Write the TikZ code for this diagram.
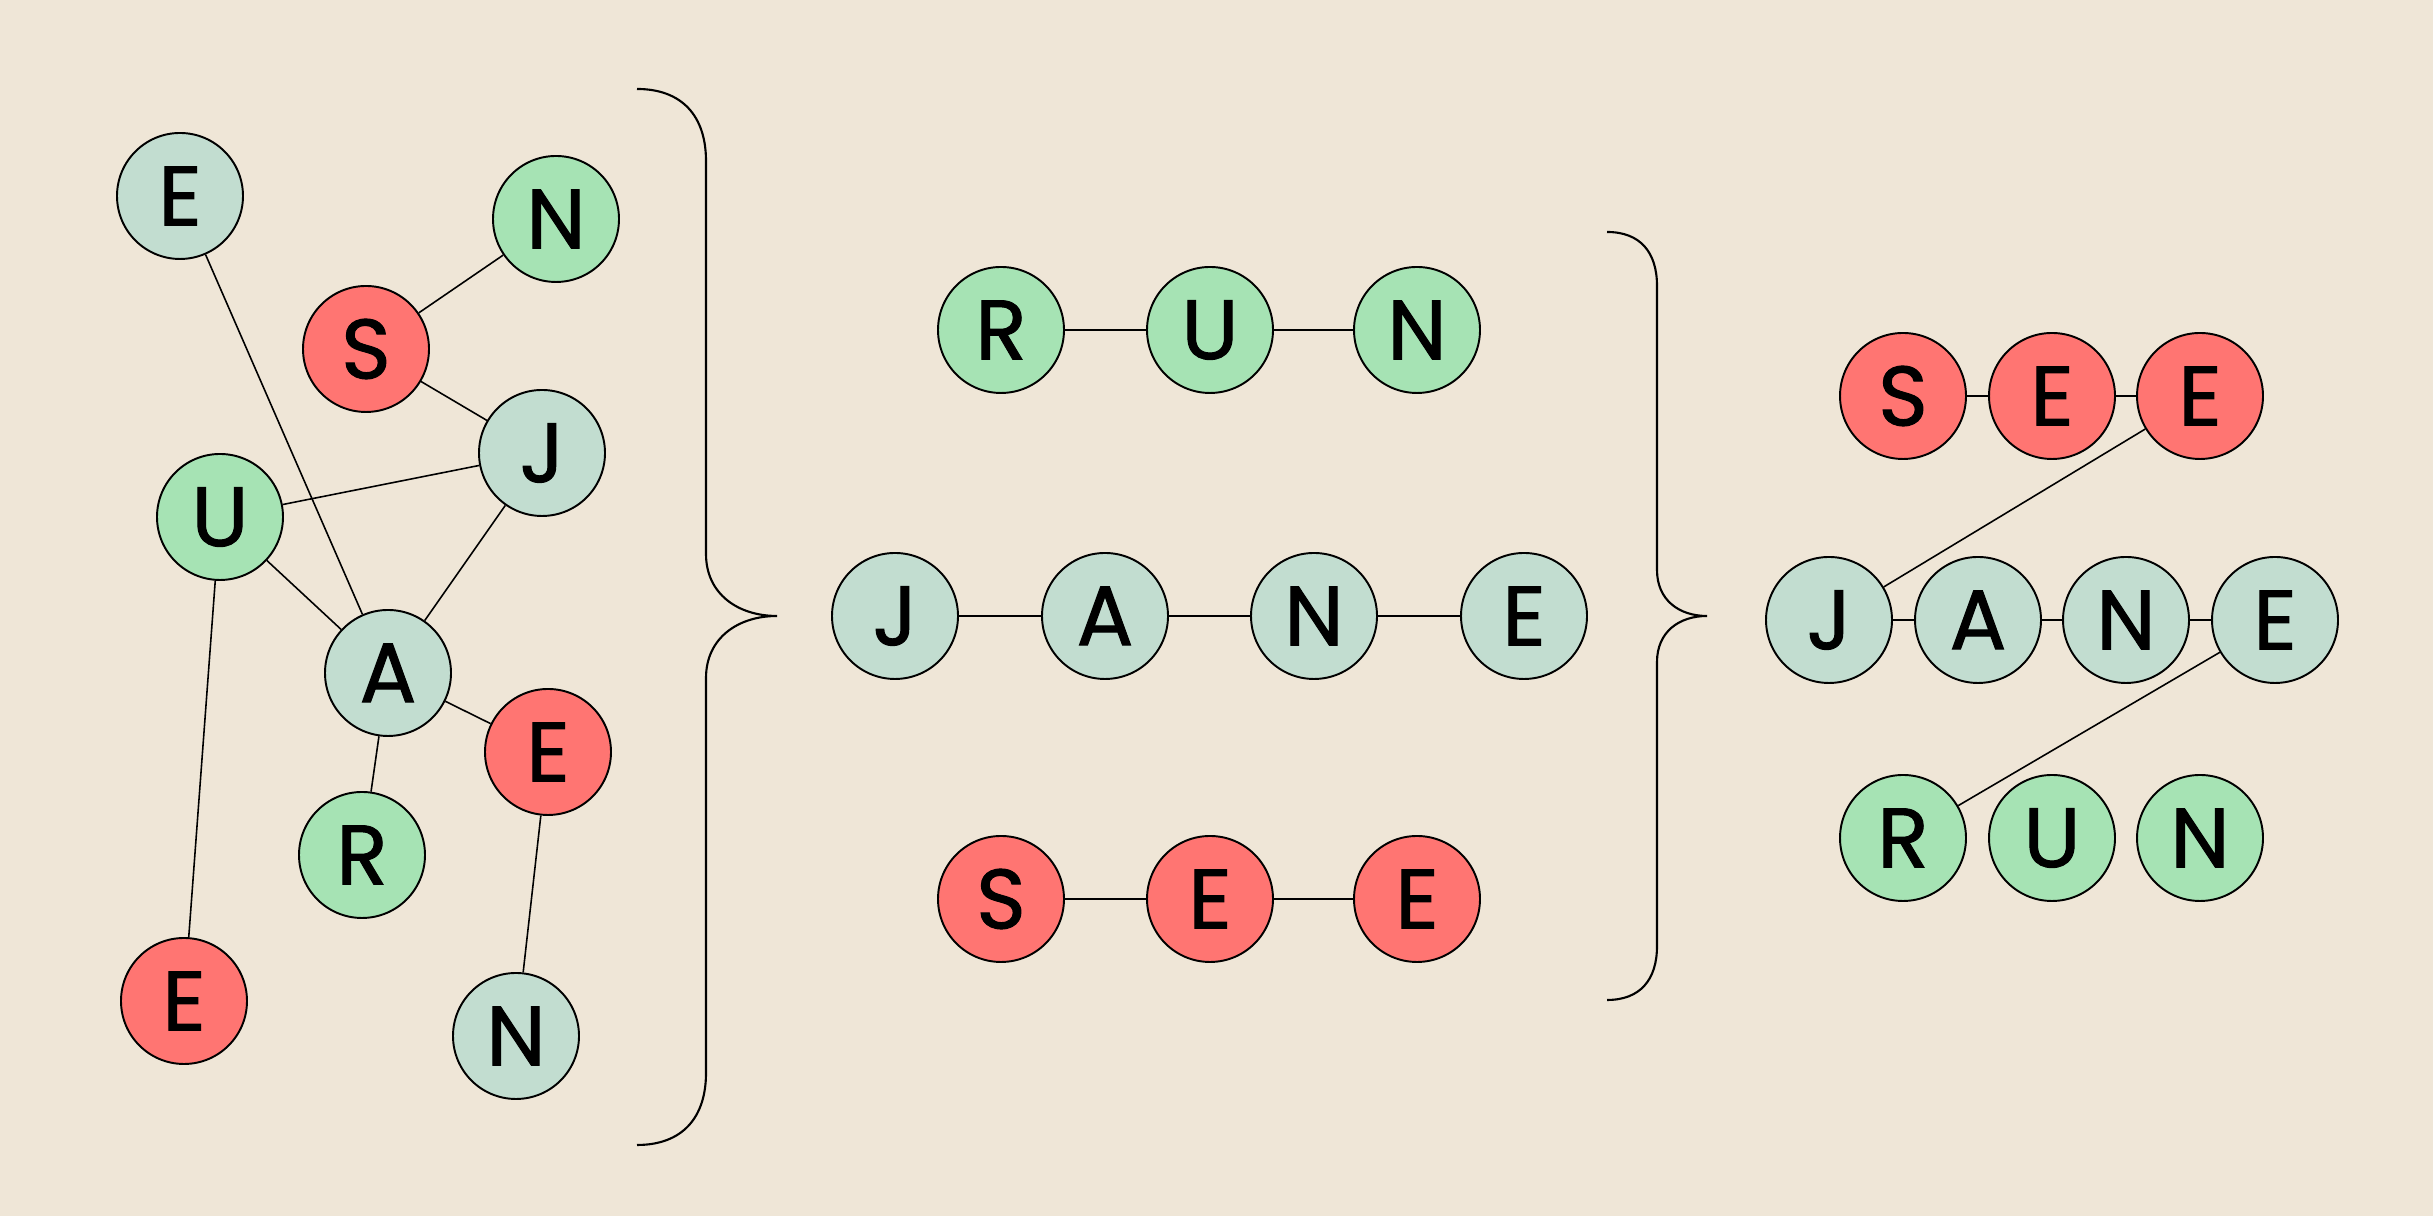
\documentclass[tikz,border=0pt]{standalone}
\usepackage{fontspec}
\usepackage{tikz}
\newfontfamily\letterfont[FakeBold=1.2]{Poppins}
\definecolor{paper}{RGB}{239,230,215}
\definecolor{tealv}{RGB}{194,221,208}
\definecolor{greenv}{RGB}{166,227,180}
\definecolor{redv}{RGB}{255,117,114}

\begin{document}
\begin{tikzpicture}[every node/.style={font=\letterfont\fontsize{24}{24}\selectfont},
	v/.style={draw, circle, line width=0.55pt, minimum size=1.26cm, inner sep=0pt},
	tv/.style={v, fill=tealv}, gv/.style={v, fill=greenv}, rv/.style={v, fill=redv},
	e/.style={line width=0.45pt}, br/.style={line width=0.6pt}]
	\fill[paper] (0,0) rectangle (24.33,12.16);
	\useasboundingbox (0,0) rectangle (24.33,12.16);
	% the jumbled graph
	\node[tv] (gE1) at (1.80,10.20) {E};
	\node[gv] (gN1) at (5.56,9.97) {N};
	\node[rv] (gS) at (3.66,8.67) {S};
	\node[tv] (gJ) at (5.42,7.63) {J};
	\node[gv] (gU) at (2.20,6.99) {U};
	\node[tv] (gA) at (3.88,5.43) {A};
	\node[rv] (gE2) at (5.48,4.64) {E};
	\node[gv] (gR) at (3.62,3.61) {R};
	\node[rv] (gE3) at (1.84,2.15) {E};
	\node[tv] (gN2) at (5.16,1.80) {N};
	\draw[e] (gE1) -- (gA);
	\draw[e] (gN1) -- (gS);
	\draw[e] (gS) -- (gJ);
	\draw[e] (gU) -- (gJ);
	\draw[e] (gU) -- (gA);
	\draw[e] (gJ) -- (gA);
	\draw[e] (gA) -- (gE2);
	\draw[e] (gA) -- (gR);
	\draw[e] (gU) -- (gE3);
	\draw[e] (gE2) -- (gN2);
	\draw[br] (6.37,11.27) .. controls (6.82,11.27) and (7.06,11.00) .. (7.06,10.55) -- (7.06,6.62) .. controls (7.06,6.22) and (7.38,6.00) .. (7.77,6.00) .. controls (7.38,6.00) and (7.06,5.78) .. (7.06,5.38) -- (7.06,1.43) .. controls (7.06,0.98) and (6.82,0.71) .. (6.37,0.71);
	% the three words
	\node[gv] (mR) at (10.01,8.86) {R};
	\node[gv] (mU) at (12.10,8.86) {U};
	\node[gv] (mN) at (14.17,8.86) {N};
	\node[tv] (mJ) at (8.95,6.00) {J};
	\node[tv] (mA) at (11.05,6.00) {A};
	\node[tv] (mN2) at (13.14,6.00) {N};
	\node[tv] (mE) at (15.24,6.00) {E};
	\node[rv] (mS) at (10.01,3.17) {S};
	\node[rv] (mE2) at (12.10,3.17) {E};
	\node[rv] (mE3) at (14.17,3.17) {E};
	\draw[e] (mR) -- (mU) -- (mN);
	\draw[e] (mJ) -- (mA) -- (mN2) -- (mE);
	\draw[e] (mS) -- (mE2) -- (mE3);
	\draw[br] (16.07,9.84) .. controls (16.40,9.84) and (16.57,9.64) .. (16.57,9.30) -- (16.57,6.46) .. controls (16.57,6.16) and (16.79,6.00) .. (17.07,6.00) .. controls (16.79,6.00) and (16.57,5.84) .. (16.57,5.54) -- (16.57,2.70) .. controls (16.57,2.36) and (16.40,2.16) .. (16.07,2.16);
	% the sentence
	\node[rv] (sS) at (19.03,8.20) {S};
	\node[rv] (sE) at (20.52,8.20) {E};
	\node[rv] (sE2) at (22.00,8.20) {E};
	\node[tv] (sJ) at (18.29,5.96) {J};
	\node[tv] (sA) at (19.78,5.96) {A};
	\node[tv] (sN) at (21.26,5.96) {N};
	\node[tv] (sE3) at (22.75,5.96) {E};
	\node[gv] (sR) at (19.03,3.78) {R};
	\node[gv] (sU) at (20.52,3.78) {U};
	\node[gv] (sN2) at (22.00,3.78) {N};
	\draw[e] (sS) -- (sE) -- (sE2);
	\draw[e] (sJ) -- (sA) -- (sN) -- (sE3);
	\draw[e] (sE2) -- (sJ);
	\draw[e] (sE3) -- (sR);
\end{tikzpicture}
\end{document}
